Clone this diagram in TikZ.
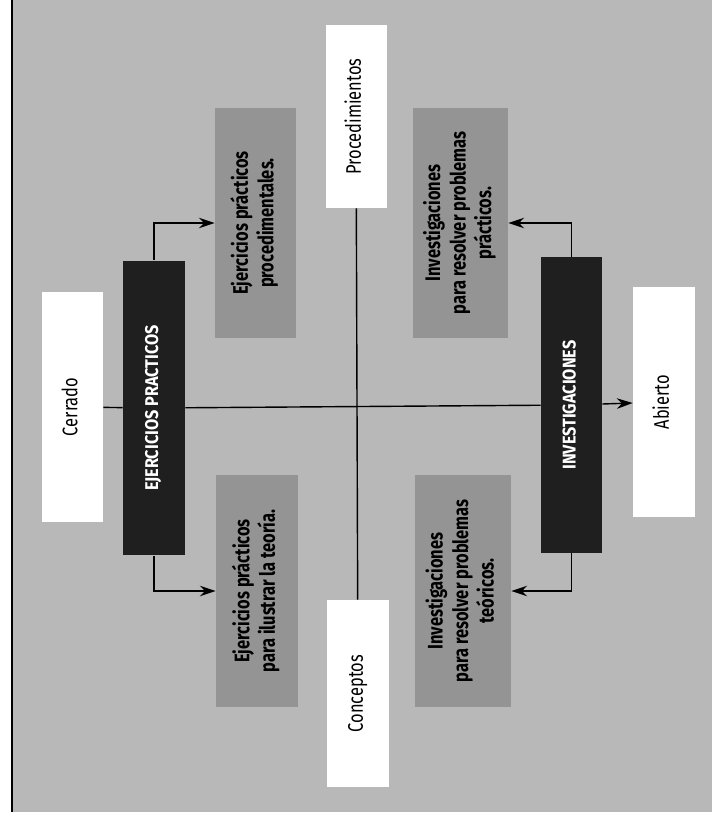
\documentclass[tikz,border=0pt]{standalone}
\usepackage{fontspec}
\setmainfont{Fira Sans}
\usetikzlibrary{arrows.meta}
\definecolor{fondo}{gray}{0.72}
\definecolor{caja}{gray}{0.58}
\definecolor{negro}{gray}{0.12}
\newcommand{\vlabel}[2][0.78]{\rotatebox{90}{\scalebox{#1}[1]{\begin{tabular}{@{}c@{}}#2\end{tabular}}}}
\tikzset{
  whitebox/.style={fill=white, inner sep=0pt, font=\fontsize{12}{14}\selectfont},
  blackbox/.style={fill=negro, text=white, inner sep=0pt, font=\bfseries\fontsize{10.5}{12}\selectfont},
  graybox/.style={fill=caja, inner sep=0pt, font=\bfseries\fontsize{12}{14.5}\selectfont},
  conn/.style={line width=0.8pt, >={Stealth[length=9pt,width=6pt]}}
}
\begin{document}
\begin{tikzpicture}[x=0.02cm, y=-0.02cm]
\useasboundingbox (0,0) rectangle (719,817);
\fill[fondo] (12,0) rectangle (712,812);
\draw[line width=1.4pt] (12,0) -- (12,812);

\node[whitebox, minimum width=1.22cm, minimum height=4.6cm] (cerrado) at (72.5,407) {\vlabel{Cerrado}};
\node[blackbox, minimum width=1.24cm, minimum height=5.9cm] (ejer) at (154,408) {\vlabel[0.88]{EJERCICIOS PRACTICOS}};
\node[graybox, minimum width=1.62cm, minimum height=4.6cm] (ejproc) at (255.5,223) {\vlabel{Ejercicios prácticos\\procedimentales.}};
\node[graybox, minimum width=1.64cm, minimum height=4.64cm] (ejteor) at (257,591) {\vlabel{Ejercicios prácticos\\para ilustrar la teoría.}};
\node[whitebox, minimum width=1.22cm, minimum height=3.66cm] (proc) at (356,116.5) {\vlabel{Procedimientos}};
\node[whitebox, minimum width=1.24cm, minimum height=3.74cm] (conc) at (358,693.5) {\vlabel{Conceptos}};
\node[graybox, minimum width=1.9cm, minimum height=4.6cm] (invprac) at (460.5,223) {\vlabel{Investigaciones\\para resolver problemas\\prácticos.}};
\node[graybox, minimum width=1.92cm, minimum height=4.64cm] (invteor) at (463,591) {\vlabel{Investigaciones\\para resolver problemas\\teóricos.}};
\node[blackbox, minimum width=1.22cm, minimum height=5.92cm] (inv) at (571.5,405) {\vlabel[0.88]{INVESTIGACIONES}};
\node[whitebox, minimum width=1.24cm, minimum height=4.6cm] (abierto) at (664,402) {\vlabel{Abierto}};

\draw[conn] (cerrado) -- (ejer);
\draw[conn] (ejer) -- (inv);
\draw[conn, ->] (inv) -- (abierto);
\draw[conn] (proc) -- (conc);
\draw[conn, ->] (ejer.north) |- (ejproc);
\draw[conn, ->] (ejer.south) |- (ejteor);
\draw[conn, ->] (inv.north) |- (invprac);
\draw[conn, ->] (inv.south) |- (invteor);
\end{tikzpicture}
\end{document}
